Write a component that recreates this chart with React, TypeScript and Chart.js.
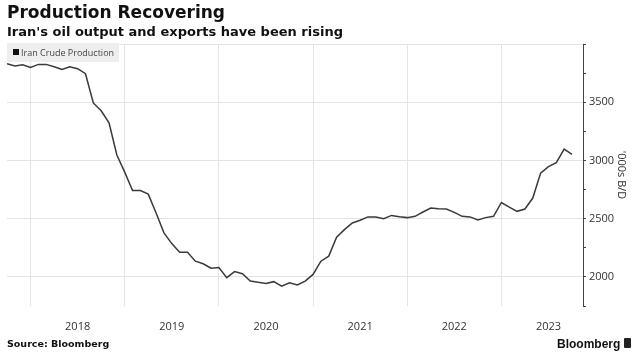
import React, { useEffect, useRef } from "react";
import { Chart, registerables } from "chart.js";

Chart.register(...registerables);

// Monthly Iranian crude production, '000s barrels/day, Oct 2017 -> Oct 2023
const seriesLabel = "Iran Crude Production";
const production: number[] = [
  3831, 3811, 3822, 3799, 3825, 3825, 3805, 3782, 3805, 3788, 3745, 3494,
  3426, 3323, 3047, 2900, 2742, 2742, 2711, 2549, 2378, 2286, 2212, 2212,
  2135, 2113, 2075, 2081, 1993, 2045, 2027, 1964, 1953, 1944, 1959, 1921,
  1950, 1930, 1964, 2021, 2135, 2178, 2340, 2406, 2463, 2486, 2515, 2515,
  2500, 2528, 2517, 2509, 2520, 2557, 2591, 2585, 2583, 2554, 2520, 2515,
  2489, 2509, 2520, 2639, 2599, 2563, 2583, 2677, 2891, 2947, 2981, 3098,
  3053,
];
const yearLabels: string[] = ["2018", "2019", "2020", "2021", "2022", "2023"];
const yearStarts: number[] = [3, 15, 27, 39, 51, 63]; // month index of each January
const yearMids: number[] = [9, 21, 33, 45, 57, 69]; // month index of each July
const xMax = 73.4;
const yMin = 1750;
const yMax = 4000;
const yStep = 250;
const yLabelled: number[] = [2000, 2500, 3000, 3500];
const yGridValues: number[] = [2000, 2500, 3000, 3500, 4000];

const W = 638;
const H = 353;

export default function App() {
  const ref = useRef<HTMLCanvasElement>(null);

  useEffect(() => {
    if (!ref.current) return;
    const tickFont = { family: '"Open Sans", "Noto Sans", sans-serif', size: 11 };
    const chart = new Chart(ref.current, {
      type: "line",
      data: {
        datasets: [
          {
            label: seriesLabel,
            data: production.map((v, i) => ({ x: i, y: v })),
            borderColor: "#3a3a3a",
            borderWidth: 1.5,
            pointRadius: 0,
            tension: 0,
            fill: false,
          },
        ],
      },
      options: {
        animation: false,
        responsive: false,
        layout: { padding: { left: 7, top: 44, right: 0, bottom: 0 } },
        plugins: { legend: { display: false }, tooltip: { enabled: false } },
        scales: {
          x: {
            type: "linear",
            min: 0,
            max: xMax,
            afterBuildTicks: (s: any) => {
              s.ticks = [...yearStarts, ...yearMids]
                .sort((a, b) => a - b)
                .map((v) => ({ value: v }));
            },
            afterFit: (s: any) => {
              s.height = 47;
            },
            ticks: {
              autoSkip: false,
              maxRotation: 0,
              padding: 14,
              color: "#333",
              font: tickFont,
              callback: (v: any) => {
                const i = yearMids.indexOf(Number(v));
                return i >= 0 ? yearLabels[i] : "";
              },
            },
            grid: {
              color: (c: any) =>
                c.tick && yearStarts.includes(c.tick.value) ? "#e4e4e4" : "rgba(0,0,0,0)",
              drawTicks: false,
              lineWidth: 1,
            },
            border: { display: false },
          },
          y: {
            position: "right",
            min: yMin,
            max: yMax,
            afterFit: (s: any) => {
              s.width = 55;
            },
            ticks: {
              stepSize: yStep,
              padding: 3,
              color: "#333",
              font: tickFont,
              callback: (v: any) => (yLabelled.includes(Number(v)) ? String(v) : ""),
            },
            grid: {
              color: (c: any) =>
                c.tick && yGridValues.includes(c.tick.value) ? "#e4e4e4" : "rgba(0,0,0,0)",
              tickColor: "#444",
              tickLength: 3,
              lineWidth: 1,
            },
            border: { display: true, color: "#444", width: 1 },
            title: {
              display: true,
              text: "'000s B/D",
              color: "#333",
              font: tickFont,
              padding: { top: 10, bottom: 0 },
            },
          },
        },
      },
    } as any);
    return () => chart.destroy();
  }, []);

  const bold = '"DejaVu Sans", Verdana, sans-serif';
  return (
    <div
      style={{
        position: "absolute",
        left: 0,
        top: 0,
        width: W,
        height: H,
        background: "#fff",
        overflow: "hidden",
      }}
    >
      <canvas
        ref={ref}
        width={W}
        height={H}
        style={{ position: "absolute", left: 0, top: 0, width: W, height: H }}
      />
      <div
        style={{
          position: "absolute",
          left: 7,
          top: 4,
          fontFamily: bold,
          fontWeight: 700,
          fontSize: 17,
          lineHeight: 1,
          color: "#111",
          whiteSpace: "nowrap",
        }}
      >
        Production Recovering
      </div>
      <div
        style={{
          position: "absolute",
          left: 7,
          top: 25,
          fontFamily: bold,
          fontWeight: 700,
          fontSize: 13,
          lineHeight: 1,
          color: "#111",
          whiteSpace: "nowrap",
        }}
      >
        Iran's oil output and exports have been rising
      </div>
      <div
        style={{
          position: "absolute",
          left: 7,
          top: 43,
          width: 112,
          height: 19,
          background: "#eeeeee",
        }}
      >
        <div
          style={{
            position: "absolute",
            left: 6,
            top: 6,
            width: 6,
            height: 6,
            background: "#111",
          }}
        />
        <div
          style={{
            position: "absolute",
            left: 14,
            top: 4,
            fontFamily: '"Open Sans", sans-serif',
            fontSize: 9,
            lineHeight: "11px",
            color: "#444",
            whiteSpace: "nowrap",
          }}
        >
          {seriesLabel}
        </div>
      </div>
      <div
        style={{
          position: "absolute",
          left: 7,
          top: 339,
          fontFamily: bold,
          fontWeight: 700,
          fontSize: 9.5,
          lineHeight: 1,
          color: "#111",
          whiteSpace: "nowrap",
        }}
      >
        Source: Bloomberg
      </div>
      <div
        style={{
          position: "absolute",
          left: 557,
          top: 338,
          fontFamily: '"Liberation Sans", Arial, sans-serif',
          fontWeight: 700,
          fontSize: 12,
          lineHeight: 1,
          color: "#111",
          whiteSpace: "nowrap",
        }}
      >
        Bloomberg
      </div>
      <div
        style={{
          position: "absolute",
          left: 624,
          top: 338,
          width: 7,
          height: 10,
          borderRadius: 1,
          background: "#222",
        }}
      />
    </div>
  );
}
